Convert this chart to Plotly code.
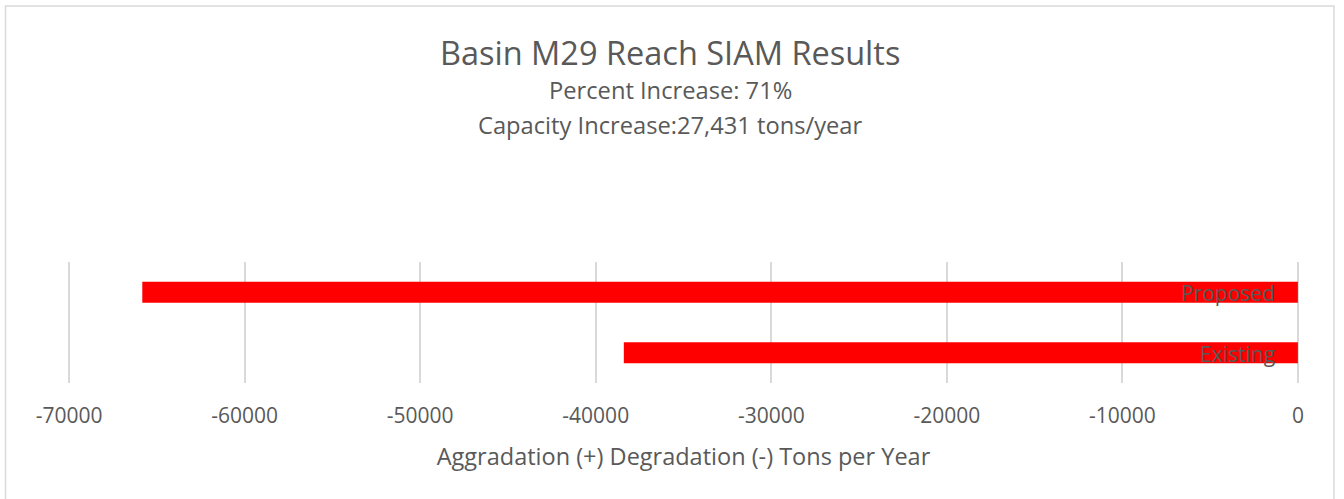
import plotly.graph_objects as go

categories = ["Existing", "Proposed"]
values = [-38400, -65831]
tick_vals = [-70000, -60000, -50000, -40000, -30000, -20000, -10000, 0]
tick_text = ["-70000", "-60000", "-50000", "-40000", "-30000", "-20000", "-10000", "0"]
title_text = "Basin M29 Reach SIAM Results"
subtitle_lines = ["Percent Increase: 71%", "Capacity Increase:27,431 tons/year"]
x_title = "Aggradation (+) Degradation (-) Tons per Year"

FONT = "'Open Sans', sans-serif"
GRAY = "#595959"

PAD = 120  # small range padding so edge gridlines are drawn
L, R, T, B = 67, 44, 262, 116
W, H = 1344, 499
pw = W - L - R
ph = H - T - B

fig = go.Figure()
fig.add_trace(go.Bar(
    y=categories, x=values, orientation="h",
    marker=dict(color="#ff0000", line=dict(width=0)),
    width=0.35, hoverinfo="x+y",
))

for c, v in zip(categories, values):
    fig.add_annotation(x=0, y=c, xref="x", yref="y", text=c, showarrow=False,
                       xanchor="right", yanchor="middle", xshift=-21, yshift=-1,
                       font=dict(family=FONT, size=21, color=GRAY))

def py(pix):
    return (H - B - pix) / ph

def px(pix):
    return (pix - L) / pw

fig.add_annotation(x=px(670), y=py(52), xref="paper", yref="paper", text=title_text,
                   showarrow=False, xanchor="center", yanchor="middle",
                   font=dict(family=FONT, size=32.5, color=GRAY))
for i, line in enumerate(subtitle_lines):
    fig.add_annotation(x=px(670), y=py(90 + 35 * i), xref="paper", yref="paper", text=line,
                       showarrow=False, xanchor="center", yanchor="middle",
                       font=dict(family=FONT, size=23.7, color=GRAY))

fig.add_shape(type="rect", xref="paper", yref="paper",
              x0=px(5.5), x1=px(1334), y0=py(6), y1=py(520),
              line=dict(color="#d9d9d9", width=1.5), layer="below")

fig.update_layout(
    width=W, height=H,
    margin=dict(l=L, r=R, t=T, b=B),
    paper_bgcolor="white", plot_bgcolor="white",
    showlegend=False,
    font=dict(family=FONT, color=GRAY),
    xaxis=dict(range=[-70000 - PAD, PAD], tickvals=tick_vals, ticktext=tick_text, showgrid=True,
               gridcolor="#d9d9d9", gridwidth=1.5, zeroline=False, showline=False,
               ticks="", tickfont=dict(size=21, color=GRAY), ticklabelstandoff=18,
               title=dict(text=x_title, font=dict(size=23.5, color=GRAY), standoff=20)),
    yaxis=dict(showticklabels=False, showgrid=False, zeroline=False, showline=False,
               range=[-0.5, 1.5]),
)

fig.write_html("out.html", config={"displayModeBar": False},
               post_script="document.body.style.margin='0';document.body.style.overflow='hidden';")
